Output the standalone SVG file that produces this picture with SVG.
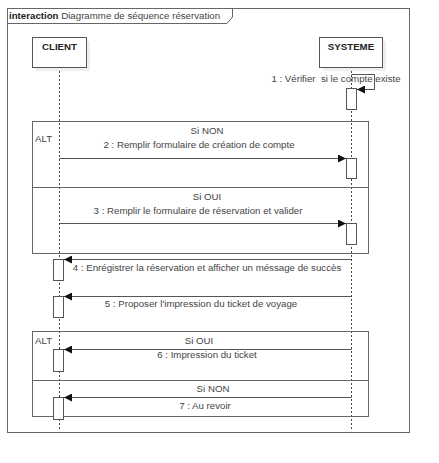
<svg xmlns="http://www.w3.org/2000/svg" width="439" height="463" viewBox="0 0 439 463">
<style>
text{font-family:"Liberation Sans",Arial,sans-serif;font-size:9.7px;fill:#444}
.b{font-weight:bold;fill:#222}
.ln{stroke:#555;stroke-width:1;fill:none}
.life{stroke:#444;stroke-width:1;stroke-dasharray:2,2;fill:none}
.act{fill:#fff;stroke:#555;stroke-width:1}
.frag{fill:none;stroke:#666;stroke-width:1}
.msg{stroke:#555;stroke-width:1;fill:none;marker-end:url(#ah)}
</style>
<defs>
<marker id="ah" viewBox="0 0 10 10" refX="10" refY="5" markerWidth="10" markerHeight="8" markerUnits="userSpaceOnUse" orient="auto">
<path d="M0,0 L10,5 L0,10 z" fill="#111"/>
</marker>
</defs>
<rect width="439" height="463" fill="#fff"/>
<g id="frame">
<rect x="7.5" y="8.5" width="402" height="424" class="frag"/>
<path d="M7.5,23.5 H227 L232.5,17 V8.5" class="frag"/>
<text x="9" y="19"><tspan class="b">interaction</tspan> Diagramme de séquence réservation</text>
</g>
<g id="lifelines">
<line x1="59.5" y1="67" x2="59.5" y2="429" class="life"/>
<line x1="351.5" y1="67" x2="351.5" y2="429" class="life"/>
</g>
<g id="client">
<rect x="36" y="41" width="54" height="30" fill="#eee"/>
<rect x="32.5" y="37.5" width="54" height="30" fill="#fff" stroke="#555"/>
<text x="59.5" y="50" text-anchor="middle" class="b">CLIENT</text>
</g>
<g id="systeme">
<rect x="323" y="41" width="63" height="30" fill="#eee"/>
<rect x="319.5" y="37.5" width="63" height="30" fill="#fff" stroke="#555"/>
<text x="351" y="50" text-anchor="middle" class="b">SYSTEME</text>
</g>
<g id="alt1">
<rect x="32.5" y="121.5" width="336" height="132" class="frag"/>
<line x1="32.5" y1="187.5" x2="368.5" y2="187.5" class="frag"/>
<text x="35" y="142">ALT</text>
<text x="207" y="134" text-anchor="middle">Si NON</text>
<text x="207" y="200" text-anchor="middle">Si OUI</text>
</g>
<g id="alt2">
<rect x="32.5" y="331.5" width="336" height="85" class="frag"/>
<line x1="32.5" y1="380.5" x2="368.5" y2="380.5" class="frag"/>
<text x="35" y="344">ALT</text>
<text x="199" y="344" text-anchor="middle">Si OUI</text>
<text x="213" y="392" text-anchor="middle">Si NON</text>
</g>
<g id="activations">
<rect x="346.5" y="88.5" width="10" height="21" class="act"/>
<rect x="346.5" y="158.5" width="10" height="20" class="act"/>
<rect x="346.5" y="223.5" width="10" height="21" class="act"/>
<rect x="53.5" y="259.5" width="10" height="21" class="act"/>
<rect x="53.5" y="296.5" width="10" height="21" class="act"/>
<rect x="53.5" y="349.5" width="10" height="22" class="act"/>
<rect x="53.5" y="397.5" width="10" height="22" class="act"/>
</g>
<g id="connectors">
<path d="M351.5,74.5 H374.5 V89.5 H357" class="msg"/>
<line x1="59.5" y1="158.5" x2="346" y2="158.5" class="msg"/>
<line x1="59.5" y1="223.5" x2="346" y2="223.5" class="msg"/>
<line x1="351.5" y1="259.5" x2="64" y2="259.5" class="msg"/>
<line x1="351.5" y1="296.5" x2="64" y2="296.5" class="msg"/>
<line x1="351.5" y1="349.5" x2="64" y2="349.5" class="msg"/>
<line x1="351.5" y1="397.5" x2="64" y2="397.5" class="msg"/>
</g>
<g id="labels">
<text x="336" y="82" text-anchor="middle" xml:space="preserve">1 : Vérifier  si le compte existe</text>
<text x="199" y="148" text-anchor="middle">2 : Remplir formulaire de création de compte</text>
<text x="198" y="214" text-anchor="middle">3 : Remplir le formulaire de réservation et valider</text>
<text x="207" y="271" text-anchor="middle">4 : Enrégistrer la réservation et afficher un méssage de succès</text>
<text x="201" y="307" text-anchor="middle">5 : Proposer l'impression du ticket de voyage</text>
<text x="207" y="358" text-anchor="middle">6 : Impression du ticket</text>
<text x="205" y="409" text-anchor="middle">7 : Au revoir</text>
</g>
</svg>
